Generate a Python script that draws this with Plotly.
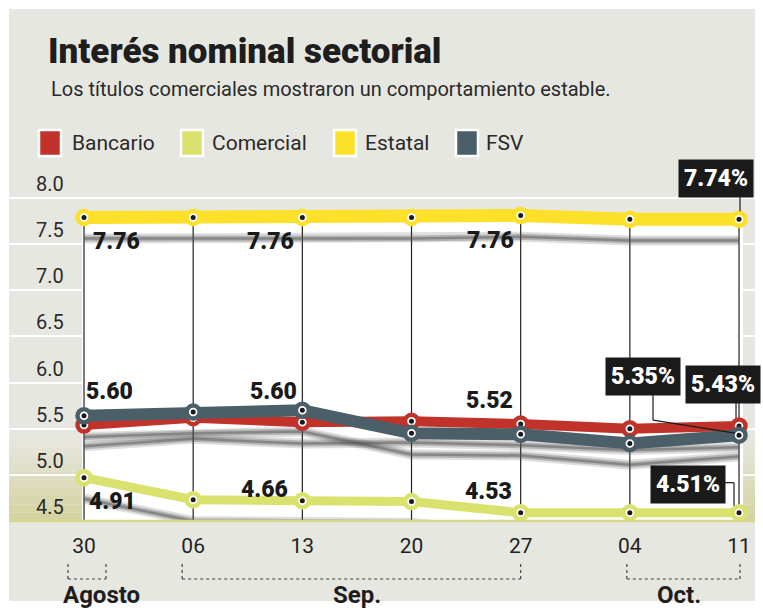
import plotly.graph_objects as go

# ---------------- data ----------------
dates = ["30", "06", "13", "20", "27", "04", "11"]
months = ["Agosto", "Sep.", "Oct."]
month_spans = [(0, 0), (1, 4), (5, 6)]
bancario = [5.54, 5.62, 5.57, 5.58, 5.55, 5.50, 5.53]
comercial = [4.97, 4.73, 4.72, 4.71, 4.59, 4.59, 4.59]
estatal = [7.79, 7.79, 7.79, 7.79, 7.81, 7.77, 7.77]
fsv = [5.64, 5.68, 5.70, 5.45, 5.44, 5.34, 5.43]
y_ticks = [4.5, 5.0, 5.5, 6.0, 6.5, 7.0, 7.5, 8.0]
value_labels = ["7.76", "7.76", "7.76", "5.60", "5.60", "5.52", "4.91", "4.66", "4.53"]
callout_labels = ["7.74%", "5.35%", "5.43%", "4.51%"]

title = "Interés nominal sectorial"
subtitle = "Los títulos comerciales mostraron un comportamiento estable."

# ---------------- style ----------------
W, H = 763, 610
ML, MR, MT, MB = 9, 8, 165, 89
PW, PH = W - ML - MR, H - MT - MB
X0PX, XSTEP = 84.0, 109.17
XR = [(ML - X0PX) / XSTEP, (W - MR - X0PX) / XSTEP]
YR = [4.5, 4.5 + PH * 3.5 / 323.0]

GRAY = "#e7e7e1"
COL = {"Bancario": "#c0322a", "Comercial": "#d9e26c", "Estatal": "#fde02a", "FSV": "#4b5f69"}
LW = {"Bancario": 10, "Comercial": 9, "Estatal": 13, "FSV": 12}
SERIES = {"Bancario": bancario, "Comercial": comercial, "Estatal": estatal, "FSV": fsv}
SHADOW = 0.23
BOLDF = "Roboto"


def px(x):
    return (x - ML) / PW


def py(y):
    return (H - MB - y) / PH


def dx(p):  # pixel x -> data x
    return (p - X0PX) / XSTEP


xs = list(range(len(dates)))
fig = go.Figure()

# shadows
for name in ["Estatal", "Bancario", "FSV", "Comercial"]:
    vals = [v - SHADOW for v in SERIES[name]]
    for w, a in [(10, 0.18), (6, 0.3), (2.5, 0.45)]:
        fig.add_trace(go.Scatter(x=xs, y=vals, mode="lines", hoverinfo="skip",
                                 line=dict(color=f"rgba(80,80,80,{a})", width=w),
                                 showlegend=False))

# series
for name in ["Comercial", "Bancario", "FSV", "Estatal"]:
    vals = SERIES[name]
    fig.add_trace(go.Scatter(x=xs, y=vals, mode="lines+markers", name=name, showlegend=False,
                             line=dict(color=COL[name], width=LW[name]),
                             marker=dict(size=13, color="white",
                                         line=dict(color=COL[name], width=4.5))))
    fig.add_trace(go.Scatter(x=xs, y=vals, mode="markers", showlegend=False, hoverinfo="skip",
                             marker=dict(size=5, color="#1a1a1a")))

shapes = []
# gray panel
shapes.append(dict(type="rect", xref="paper", yref="paper", x0=px(9), x1=px(755),
                   y0=py(601), y1=py(9), fillcolor=GRAY, line_width=0, layer="below"))
# gradient strips
steps = 10
c0 = (231, 231, 225)
c1 = (211, 211, 160)
for i in range(steps):
    t = (i + 0.5) / steps
    col = tuple(int(c0[k] + (c1[k] - c0[k]) * (1 - t)) for k in range(3))
    ya = 4.5 + 0.9 * i / steps
    yb = 4.5 + 0.9 * (i + 1) / steps
    for xa, xb in [(XR[0], dx(82)), (dx(743), XR[1])]:
        shapes.append(dict(type="rect", xref="x", yref="y", x0=xa, x1=xb, y0=ya, y1=yb,
                           fillcolor=f"rgb{col}", line_width=0, layer="below"))
# white panel
shapes.append(dict(type="rect", xref="x", yref="y", x0=dx(82), x1=dx(743), y0=4.5,
                   y1=min(estatal) - 0.02, fillcolor="white", line_width=0, layer="below"))
# vertical date lines
for i, v in enumerate(estatal):
    shapes.append(dict(type="line", xref="x", yref="y", x0=i, x1=i, y0=4.5, y1=v,
                       line=dict(color="#222", width=1.2), layer="between"))
# bottom line
shapes.append(dict(type="line", xref="paper", yref="paper", x0=0, x1=1, y0=0, y1=0,
                   line=dict(color="#d6d78e", width=2.5)))
# month brackets
br_off = [(-16, 22), (-11, 0), (-3, 1)]
for (a, b), (oa, ob) in zip(month_spans, br_off):
    xa, xb = a + oa / XSTEP, b + ob / XSTEP
    for seg in [(xa, py(564), xa, py(579)), (xa, py(579), xb, py(579)), (xb, py(579), xb, py(564))]:
        shapes.append(dict(type="line", xref="x", yref="paper", x0=seg[0], y0=seg[1],
                           x1=seg[2], y1=seg[3], line=dict(color="#444", width=1.2, dash="dot")))
# legend swatches
leg_x = [39, 181, 334, 456]
leg_tx = [70, 210, 363, 484]
for (name, c), x0, tx in zip(COL.items(), leg_x, leg_tx):
    shapes.append(dict(type="rect", xref="paper", yref="paper", x0=px(x0), x1=px(x0 + 22),
                       y0=py(156), y1=py(130), fillcolor=c, line=dict(color="white", width=2.5)))

annotations = []
annotations.append(dict(text=title, xref="paper", yref="paper", x=px(46), y=py(51),
                        xanchor="left", yanchor="middle", showarrow=False,
                        font=dict(family=BOLDF, size=35, weight=900, color="#1e1e1e")))
annotations.append(dict(text=subtitle, xref="paper", yref="paper", x=px(49), y=py(89),
                        xanchor="left", yanchor="middle", showarrow=False,
                        font=dict(family="Roboto", size=20, color="#2a2a2a")))
for name, tx in zip(COL.keys(), leg_tx):
    annotations.append(dict(text=name, xref="paper", yref="paper", x=px(tx), y=py(143),
                            xanchor="left", yanchor="middle", showarrow=False,
                            font=dict(family="Roboto", size=21, color="#2a2a2a")))

# value labels: (series, index, dx, dy)
lab_pos = [("Estatal", 0, 32, -24), ("Estatal", 2, -32, -24), ("Estatal", 4, -30, -25),
           ("FSV", 0, 25, 24), ("FSV", 2, -29, 19), ("Bancario", 4, -31, 24),
           ("Comercial", 0, 28, -24), ("Comercial", 2, -38, 11), ("Comercial", 4, -32, 21)]
for txt, (name, i, ox, oy) in zip(value_labels, lab_pos):
    annotations.append(dict(text=txt, x=i, y=SERIES[name][i], xref="x", yref="y",
                            xshift=ox, yshift=oy, showarrow=False, xanchor="center",
                            yanchor="middle",
                            font=dict(family=BOLDF, size=23, weight=900, color="#1a1a1a")))

# callouts: (series, index, dx, dy, leader polyline in pixel offsets)
call_pos = [("Estatal", 6, -23, 41, [(1, 24), (1, 8)]),
            ("FSV", 6, -96, 59, [(-86, 46), (-86, 15), (-4, 2)]),
            ("Bancario", 6, -16, 41, [(-3, 24), (-3, 8)]),
            ("Comercial", 6, -51, 28, [(-14, 30), (-5, 30), (-5, 7)])]
for txt, (name, i, ox, oy, pts) in zip(callout_labels, call_pos):
    v = SERIES[name][i]
    for (ax_, ay_), (bx_, by_) in zip(pts[:-1], pts[1:]):
        shapes.append(dict(type="line", xref="x", yref="y", xsizemode="pixel", ysizemode="pixel",
                           xanchor=i, yanchor=v, x0=ax_, y0=ay_, x1=bx_, y1=by_,
                           line=dict(color="#1a1a1a", width=1.2)))
    annotations.append(dict(text=txt, x=i, y=v, xref="x", yref="y",
                            xshift=ox, yshift=oy, showarrow=False, xanchor="center",
                            yanchor="middle", bgcolor="#1a1a1a", borderpad=5,
                            font=dict(family=BOLDF, size=23, weight=900, color="white")))

# month labels
m_x = [dx(101), 2.5, dx(679)]
for m, x in zip(months, m_x):
    annotations.append(dict(text=m, x=x, xref="x", y=py(595), yref="paper",
                            showarrow=False, xanchor="center", yanchor="middle",
                            font=dict(family="Roboto", size=24, weight=700, color="#1e1e1e")))

fig.update_layout(
    width=W, height=H, margin=dict(l=ML, r=MR, t=MT, b=MB),
    paper_bgcolor="white", plot_bgcolor=GRAY,
    shapes=shapes, annotations=annotations, showlegend=False,
    xaxis=dict(range=XR, tickvals=xs, ticktext=dates, showgrid=False, zeroline=False,
               ticks="", ticklabelstandoff=10, fixedrange=True,
               tickfont=dict(family="Roboto", size=21, color="#222")),
    yaxis=dict(range=YR, tickvals=y_ticks, ticktext=[f"{t:.1f}" for t in y_ticks],
               showgrid=True, gridcolor="white", gridwidth=1.5, zeroline=False,
               ticklabelposition="inside top", ticklabelstandoff=24, fixedrange=True,
               tickfont=dict(family="Roboto", size=20, color="#2a2a2a")),
)

fig.write_html("out.html", config={"displayModeBar": False},
               post_script="document.body.style.margin='0';")
